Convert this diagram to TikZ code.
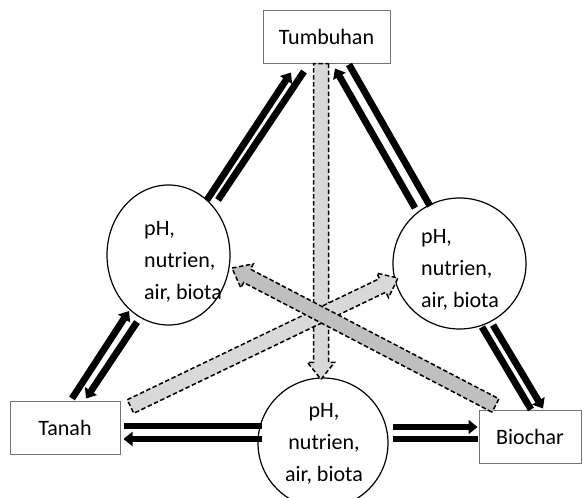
\documentclass[tikz,border=0pt]{standalone}
\usepackage{fontspec}
\setmainfont{Carlito}
\usetikzlibrary{calc,arrows.meta,shapes.geometric}
\definecolor{lgray}{HTML}{D9D9D9}
\definecolor{dgray}{HTML}{BFBFBF}
\newcommand\bkw{7.5pt}
\newcommand\bkh{13.5pt}
\newcommand\bkl{17pt}
\tikzset{
  box/.style={draw=black!55, line width=1pt, fill=white, minimum height=53pt, inner sep=0pt, font=\fontsize{22}{32}\selectfont},
  bubble/.style={ellipse, draw=black, line width=1.2pt, fill=white, inner sep=0pt},
  bubtext/.style={inner sep=0pt, font=\fontsize{22}{32}\selectfont},
  blk/.style={line width=6.8pt, draw=black},
  blkhead/.style={-{Triangle[width=14pt,length=9pt]}},
  blockarrow/.style={draw=black, line width=1.5pt, dash pattern=on 4.5pt off 2.5pt, line join=miter,
    to path={($(\tikztostart)!\bkw!90:(\tikztotarget)$)
      -- ($(\tikztotarget)!\bkl!(\tikztostart)!\bkw!-90:(\tikztostart)$)
      -- ($(\tikztotarget)!\bkl!(\tikztostart)!\bkh!-90:(\tikztostart)$)
      -- (\tikztotarget)
      -- ($(\tikztotarget)!\bkl!(\tikztostart)!\bkh!90:(\tikztostart)$)
      -- ($(\tikztotarget)!\bkl!(\tikztostart)!\bkw!90:(\tikztostart)$)
      -- ($(\tikztostart)!\bkw!-90:(\tikztotarget)$) -- cycle}}
}
\begin{document}
\begin{tikzpicture}[x=1pt,y=-1pt]
\useasboundingbox (0,0) rectangle (587,498);
% nodes
\node[box, minimum width=127pt] (tumb) at (326.5,36.5) {Tumbuhan};
\node[box, minimum width=110pt] (tanah) at (65,427.5) {Tanah};
\node[box, minimum width=102pt] (bio) at (530,436.5) {Biochar};
\node[bubble, minimum width=123pt, minimum height=140pt] (cl) at (168.5,255) {};
\node[bubble, minimum width=133pt, minimum height=131pt] (cr) at (459.5,263.5) {};
\node[bubble, minimum width=130pt, minimum height=130pt] (cb) at (323,443) {};
\node[bubtext, align=left, anchor=west] (tl) at (144,262) {pH,\\nutrien,\\air, biota};
\node[bubtext, align=left, anchor=west] (tr) at (421,270) {pH,\\nutrien,\\air, biota};
\node[bubtext, align=center] (tb) at (324,444) {pH,\\nutrien,\\air, biota};
% block arrow end points
\coordinate (va) at ($(tumb.south)+(-5.5,0)$);
\coordinate (vb) at ($(cb.north)+(-2,2)$);
\coordinate (la) at ($(tanah.east)+(10,-21)$);
\coordinate (lb) at ($(cr)+(-61.5,14.5)$);
\coordinate (da) at ($(bio.north)+(-34.5,-4)$);
\coordinate (db) at ($(cl)+(63.5,13)$);
\path[blockarrow, fill=lgray] (va) to (vb);
\path[blockarrow, fill=lgray] (la) to (lb);
\path[blockarrow, fill=dgray] (da) to (db);
% black double arrows
\draw[blk, blkhead] ($(cl)+(38.5,-55)$) -- ($(tumb.south)+(-35.5,9)$);
\draw[blk] ($(cl)+(49.5,-55)$) -- ($(tumb.south)+(-22.5,8)$);
\draw[blk, blkhead] ($(tanah.north)+(7,-2)$) -- ($(cl)+(-39.5,56)$);
\draw[blk, blkhead] ($(cl)+(-31.5,67)$) -- ($(tanah.north)+(21,-2)$);
\draw[blk, blkhead] ($(cr)+(-44.5,-55.5)$) -- ($(tumb.south)+(8.5,5)$);
\draw[blk] ($(cr)+(-29.5,-57.5)$) -- ($(tumb.south)+(22.5,1)$);
\draw[blk] ($(cr)+(22.5,63.5)$) -- ($(bio.north)+(1,0)$);
\draw[blk, blkhead] ($(cr)+(33.5,61.5)$) -- ($(bio.north)+(13,-1)$);
\draw[blk] ($(cb)+(-61,-17)$) -- ($(tanah.east)+(3,-1.5)$);
\draw[blk, blkhead] ($(cb)+(-61,-4)$) -- ($(tanah.east)+(3,11.5)$);
\draw[blk, blkhead] ($(cb)+(70,-16)$) -- ($(bio.west)+(-1,-9.5)$);
\draw[blk] ($(cb)+(70,-4)$) -- ($(bio.west)+(-1,2.5)$);
\end{tikzpicture}
\end{document}
